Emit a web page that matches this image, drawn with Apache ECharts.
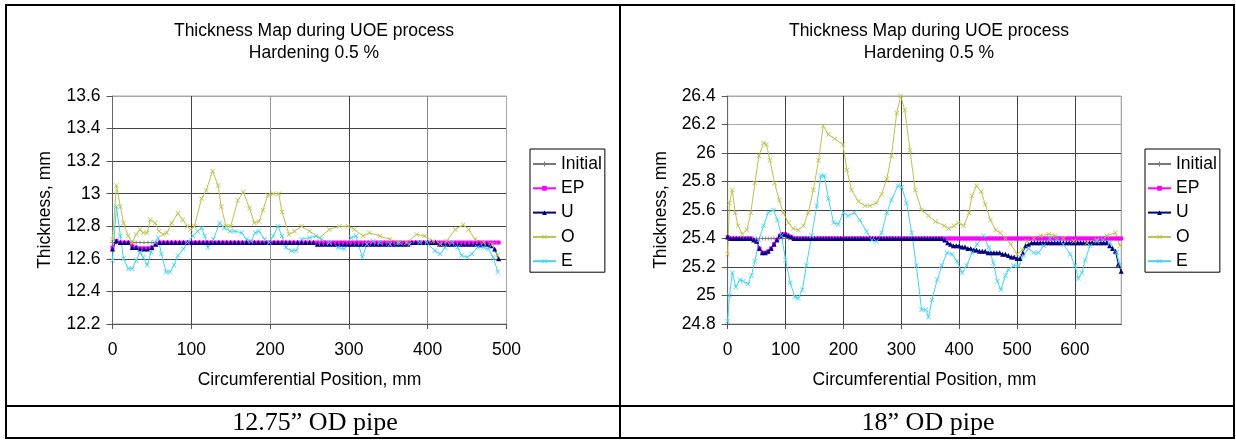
<!DOCTYPE html>
<html>
<head>
<meta charset="utf-8">
<script src="https://cdn.jsdelivr.net/npm/echarts/dist/echarts.min.js"></script>
<style>
html,body{margin:0;padding:0;background:#fff;}
#chart{width:1236px;height:441px;}
</style>
</head>
<body>
<div id="chart"></div>
<script>
// ---------------- DATA ----------------
const seriesNames = ['Initial', 'EP', 'U', 'O', 'E'];
const titleText = 'Thickness Map during UOE process\nHardening 0.5 %';
const captions = ['12.75\u201D OD pipe', '18\u201D OD pipe'];
const yName = 'Thickness, mm';
const xName = 'Circumferential Position, mm';

// Left chart (12.75" OD pipe): x positions every 5 mm
const xLeft = [
  0,5,10,15,20,25,30,35,40,45,
  50,55,60,65,70,75,80,85,90,95,
  100,105,110,115,120,125,130,135,140,145,
  150,155,160,165,170,175,180,185,190,195,
  200,205,210,215,220,225,230,235,240,245,
  250,255,260,265,270,275,280,285,290,295,
  300,305,310,315,320,325,330,335,340,345,
  350,355,360,365,370,375,380,385,390,395,
  400,405,410,415,420,425,430,435,440,445,
  450,455,460,465,470,475,480,485,490
];
const initialLeft = [
  12.7,12.7,12.7,12.7,12.7,12.7,12.7,12.7,12.7,12.7,
  12.7,12.7,12.7,12.7,12.7,12.7,12.7,12.7,12.7,12.7,
  12.7,12.7,12.7,12.7,12.7,12.7,12.7,12.7,12.7,12.7,
  12.7,12.7,12.7,12.7,12.7,12.7,12.7,12.7,12.7,12.7,
  12.7,12.7,12.7,12.7,12.7,12.7,12.7,12.7,12.7,12.7,
  12.7,12.7,12.7,12.7,12.7,12.7,12.7,12.7,12.7,12.7,
  12.7,12.7,12.7,12.7,12.7,12.7,12.7,12.7,12.7,12.7,
  12.7,12.7,12.7,12.7,12.7,12.7,12.7,12.7,12.7,12.7,
  12.7,12.7,12.7,12.7,12.7,12.7,12.7,12.7,12.7,12.7,
  12.7,12.7,12.7,12.7,12.7,12.7,12.7,12.7,12.7
];
const epLeft = [
  12.67,12.71,12.70,12.70,12.70,12.68,12.67,12.665,12.665,12.665,
  12.67,12.69,12.70,12.70,12.70,12.70,12.70,12.70,12.70,12.70,
  12.70,12.70,12.70,12.70,12.70,12.70,12.70,12.70,12.70,12.70,
  12.70,12.70,12.70,12.70,12.70,12.70,12.70,12.70,12.70,12.70,
  12.70,12.70,12.70,12.70,12.70,12.70,12.70,12.70,12.70,12.70,
  12.70,12.70,12.70,12.70,12.70,12.70,12.70,12.70,12.70,12.70,
  12.70,12.70,12.70,12.70,12.70,12.70,12.70,12.70,12.70,12.70,
  12.70,12.70,12.70,12.70,12.70,12.70,12.70,12.70,12.70,12.70,
  12.70,12.70,12.70,12.70,12.70,12.70,12.70,12.70,12.70,12.70,
  12.70,12.70,12.70,12.70,12.70,12.70,12.70,12.70,12.70
];
const uLeft = [
  12.66,12.71,12.70,12.70,12.70,12.67,12.67,12.66,12.66,12.66,
  12.67,12.69,12.70,12.70,12.70,12.70,12.70,12.70,12.70,12.70,
  12.70,12.70,12.70,12.70,12.70,12.70,12.70,12.70,12.70,12.70,
  12.70,12.70,12.70,12.70,12.70,12.70,12.70,12.70,12.70,12.70,
  12.70,12.70,12.70,12.70,12.70,12.70,12.70,12.70,12.70,12.70,
  12.70,12.70,12.69,12.69,12.69,12.69,12.69,12.69,12.69,12.69,
  12.69,12.69,12.69,12.69,12.69,12.69,12.69,12.69,12.69,12.69,
  12.69,12.69,12.69,12.69,12.69,12.69,12.70,12.70,12.70,12.70,
  12.70,12.70,12.70,12.69,12.69,12.69,12.69,12.69,12.69,12.69,
  12.69,12.69,12.69,12.69,12.69,12.69,12.68,12.66,12.60
];
const oLeft = [
  [0,12.72],[5,13.05],[10,12.92],[14,12.82],[20,12.74],[25,12.70],[30,12.75],[35,12.78],[39,12.76],[44,12.76],
  [48,12.84],[54,12.82],[59,12.77],[64,12.75],[69,12.76],[75,12.82],[83,12.88],[89,12.84],[95,12.80],[99,12.78],
  [104,12.80],[113,12.97],[119,13.02],[127,13.14],[134,13.05],[138,12.92],[144,12.80],[150,12.80],[159,12.96],[166,13.01],
  [174,12.91],[180,12.82],[186,12.83],[191,12.90],[197,12.99],[204,13.00],[211,13.00],[215,12.89],[224,12.75],[231,12.77],
  [240,12.80],[250,12.77],[263,12.73],[275,12.78],[288,12.80],[299,12.80],[307,12.78],[318,12.74],[326,12.76],[339,12.74],
  [352,12.72],[362,12.70],[373,12.70],[386,12.75],[396,12.74],[407,12.71],[416,12.69],[424,12.71],[435,12.78],[445,12.81],
  [452,12.78],[460,12.72],[471,12.70],[482,12.69],[489,12.62]
];
const eLeft = [
  [0,12.59],[5,12.92],[10,12.74],[14,12.60],[20,12.54],[25,12.54],[30,12.59],[35,12.64],[39,12.61],[44,12.56],
  [49,12.64],[54,12.70],[58,12.73],[62,12.63],[68,12.52],[73,12.52],[78,12.56],[83,12.62],[90,12.66],[95,12.70],
  [102,12.74],[108,12.77],[113,12.79],[117,12.74],[121,12.67],[128,12.72],[136,12.82],[142,12.79],[149,12.77],[155,12.77],
  [164,12.76],[170,12.72],[176,12.71],[181,12.76],[186,12.77],[193,12.72],[199,12.70],[204,12.74],[210,12.80],[215,12.74],
  [220,12.67],[227,12.65],[233,12.65],[240,12.72],[250,12.73],[258,12.74],[265,12.72],[275,12.70],[286,12.67],[294,12.66],
  [303,12.73],[309,12.74],[317,12.61],[323,12.69],[331,12.71],[339,12.70],[352,12.69],[364,12.70],[377,12.69],[390,12.70],
  [399,12.70],[409,12.65],[416,12.63],[422,12.67],[431,12.70],[438,12.67],[443,12.62],[450,12.61],[456,12.63],[463,12.67],
  [471,12.67],[477,12.66],[483,12.61],[489,12.52]
];

// Right chart (18" OD pipe): x positions every 5 mm
const xRight = [
  0,5,10,15,20,25,30,35,40,45,
  50,55,60,65,70,75,80,85,90,95,
  100,105,110,115,120,125,130,135,140,145,
  150,155,160,165,170,175,180,185,190,195,
  200,205,210,215,220,225,230,235,240,245,
  250,255,260,265,270,275,280,285,290,295,
  300,305,310,315,320,325,330,335,340,345,
  350,355,360,365,370,375,380,385,390,395,
  400,405,410,415,420,425,430,435,440,445,
  450,455,460,465,470,475,480,485,490,495,
  500,505,510,515,520,525,530,535,540,545,
  550,555,560,565,570,575,580,585,590,595,
  600,605,610,615,620,625,630,635,640,645,
  650,655,660,665,670,675,680
];
const initialRight = [
  25.4,25.4,25.4,25.4,25.4,25.4,25.4,25.4,25.4,25.4,
  25.4,25.4,25.4,25.4,25.4,25.4,25.4,25.4,25.4,25.4,
  25.4,25.4,25.4,25.4,25.4,25.4,25.4,25.4,25.4,25.4,
  25.4,25.4,25.4,25.4,25.4,25.4,25.4,25.4,25.4,25.4,
  25.4,25.4,25.4,25.4,25.4,25.4,25.4,25.4,25.4,25.4,
  25.4,25.4,25.4,25.4,25.4,25.4,25.4,25.4,25.4,25.4,
  25.4,25.4,25.4,25.4,25.4,25.4,25.4,25.4,25.4,25.4,
  25.4,25.4,25.4,25.4,25.4,25.4,25.4,25.4,25.4,25.4,
  25.4,25.4,25.4,25.4,25.4,25.4,25.4,25.4,25.4,25.4,
  25.4,25.4,25.4,25.4,25.4,25.4,25.4,25.4,25.4,25.4,
  25.4,25.4,25.4,25.4,25.4,25.4,25.4,25.4,25.4,25.4,
  25.4,25.4,25.4,25.4,25.4,25.4,25.4,25.4,25.4,25.4,
  25.4,25.4,25.4,25.4,25.4,25.4,25.4,25.4,25.4,25.4,
  25.4,25.4,25.4,25.4,25.4,25.4,25.4
];
const epRight = [
  25.41,25.40,25.40,25.40,25.40,25.40,25.40,25.40,25.40,25.39,
  25.38,25.33,25.30,25.30,25.31,25.33,25.36,25.39,25.42,25.43,
  25.43,25.42,25.41,25.40,25.40,25.40,25.40,25.40,25.40,25.40,
  25.40,25.40,25.40,25.40,25.40,25.40,25.40,25.40,25.40,25.40,
  25.40,25.40,25.40,25.40,25.40,25.40,25.40,25.40,25.40,25.40,
  25.40,25.40,25.40,25.40,25.40,25.40,25.40,25.40,25.40,25.40,
  25.40,25.40,25.40,25.40,25.40,25.40,25.40,25.40,25.40,25.40,
  25.40,25.40,25.40,25.40,25.40,25.40,25.40,25.40,25.40,25.40,
  25.40,25.40,25.40,25.40,25.40,25.40,25.40,25.40,25.40,25.40,
  25.40,25.40,25.40,25.40,25.40,25.40,25.40,25.40,25.40,25.40,
  25.40,25.40,25.40,25.40,25.40,25.40,25.40,25.40,25.40,25.40,
  25.40,25.40,25.40,25.40,25.40,25.40,25.40,25.40,25.40,25.40,
  25.40,25.40,25.40,25.40,25.40,25.40,25.40,25.40,25.40,25.40,
  25.40,25.40,25.40,25.40,25.40,25.40,25.40
];
const uRight = [
  25.41,25.40,25.40,25.40,25.40,25.40,25.40,25.40,25.40,25.39,
  25.38,25.33,25.30,25.30,25.31,25.33,25.36,25.39,25.42,25.43,
  25.43,25.42,25.41,25.40,25.40,25.40,25.40,25.40,25.40,25.40,
  25.40,25.40,25.40,25.40,25.40,25.40,25.40,25.40,25.40,25.40,
  25.40,25.40,25.40,25.40,25.40,25.40,25.40,25.40,25.40,25.40,
  25.40,25.40,25.40,25.40,25.40,25.40,25.40,25.40,25.40,25.40,
  25.40,25.40,25.40,25.40,25.40,25.40,25.40,25.40,25.40,25.40,
  25.40,25.40,25.40,25.40,25.40,25.39,25.37,25.36,25.35,25.35,
  25.35,25.34,25.34,25.33,25.33,25.32,25.32,25.31,25.31,25.31,
  25.30,25.30,25.30,25.30,25.30,25.29,25.29,25.28,25.27,25.27,
  25.26,25.26,25.30,25.35,25.36,25.37,25.37,25.37,25.37,25.37,
  25.37,25.37,25.37,25.37,25.37,25.37,25.37,25.37,25.37,25.37,
  25.37,25.37,25.37,25.37,25.37,25.37,25.37,25.37,25.37,25.37,
  25.37,25.37,25.35,25.33,25.31,25.22,25.17
];
const oRight = [
  [0,25.29],[3,25.65],[8,25.74],[13,25.58],[18,25.49],[25,25.43],[33,25.46],[40,25.58],[47,25.79],[54,25.98],
  [62,26.07],[67,26.06],[73,25.95],[81,25.79],[89,25.67],[96,25.58],[105,25.51],[113,25.47],[122,25.46],[131,25.49],
  [139,25.58],[148,25.74],[157,25.95],[165,26.19],[174,26.13],[185,26.10],[199,26.06],[206,25.88],[214,25.74],[226,25.66],
  [237,25.63],[246,25.63],[257,25.65],[266,25.71],[275,25.82],[283,25.98],[292,26.28],[299,26.40],[306,26.30],[315,26.02],
  [324,25.74],[335,25.60],[347,25.56],[359,25.52],[374,25.49],[382,25.47],[391,25.49],[399,25.51],[408,25.49],[417,25.58],
  [422,25.70],[430,25.77],[438,25.73],[445,25.64],[454,25.53],[463,25.46],[471,25.44],[480,25.40],[489,25.36],[500,25.29],
  [509,25.32],[517,25.38],[529,25.40],[540,25.42],[555,25.43],[566,25.42],[580,25.40],[598,25.38],[621,25.37],[638,25.39],
  [655,25.42],[670,25.44],[678,25.35]
];
const eRight = [
  [0,24.82],[3,25.00],[8,25.16],[14,25.06],[21,25.11],[27,25.10],[35,25.08],[41,25.14],[47,25.24],[54,25.39],
  [62,25.49],[70,25.58],[79,25.60],[86,25.53],[93,25.42],[100,25.25],[108,25.09],[116,24.99],[122,24.98],[129,25.04],
  [136,25.21],[145,25.42],[154,25.63],[161,25.84],[167,25.84],[174,25.68],[183,25.51],[191,25.50],[200,25.58],[208,25.56],
  [219,25.58],[228,25.53],[240,25.45],[249,25.39],[257,25.38],[266,25.44],[275,25.58],[283,25.67],[294,25.77],[301,25.76],
  [309,25.65],[318,25.44],[326,25.21],[335,24.90],[342,24.90],[347,24.85],[353,24.97],[362,25.11],[370,25.21],[379,25.30],
  [388,25.29],[396,25.24],[405,25.16],[413,25.21],[422,25.30],[431,25.36],[442,25.42],[451,25.34],[459,25.23],[466,25.10],
  [472,25.04],[480,25.14],[485,25.18],[494,25.21],[503,25.21],[511,25.28],[520,25.33],[529,25.30],[537,25.30],[546,25.35],
  [557,25.40],[569,25.39],[580,25.36],[592,25.29],[600,25.21],[606,25.12],[612,25.16],[618,25.25],[626,25.35],[638,25.38],
  [649,25.39],[661,25.37],[672,25.30],[678,25.22]
];

// ---------------- STYLE ----------------
const FONT = '"Liberation Sans", Arial, Helvetica, sans-serif';
const SERIF = '"Liberation Serif", "Times New Roman", serif';
const FS = 17.5;
const X_SYMBOL = 'path://M0,1L1,0L5,4L9,0L10,1L6,5L10,9L9,10L5,6L1,10L0,9L4,5Z';
const PLUS_SYMBOL = 'path://M4,0H6V4H10V6H6V10H4V6H0V4H4Z';
const styles = {
  'Initial': { color: '#777777', symbol: PLUS_SYMBOL, size: 4 },
  'EP':      { color: '#ff00ff', symbol: 'rect', size: 4 },
  'U':       { color: '#000080', symbol: 'triangle', size: 5 },
  'O':       { color: '#bcc24c', symbol: X_SYMBOL, size: 5 },
  'E':       { color: '#45d3ee', symbol: X_SYMBOL, size: 5 }
};

function pair(xs, ys) { return xs.map((x, i) => [x, ys[i]]); }

function mkSeries(name, data, gi) {
  const s = styles[name];
  return {
    name: name, type: 'line', xAxisIndex: gi, yAxisIndex: gi, data: data,
    symbol: s.symbol, symbolSize: s.size, showSymbol: true,
    lineStyle: { color: s.color, width: 1 },
    itemStyle: { color: s.color },
    emphasis: { disabled: true }, animation: false
  };
}

function mkXAxis(gi, max, splitColors) {
  return {
    type: 'value', gridIndex: gi, min: 0, max: max, interval: 100,
    name: xName, nameLocation: 'middle', nameGap: 47,
    nameTextStyle: { fontFamily: FONT, fontSize: FS, color: '#000' },
    axisLine: { show: true, lineStyle: { color: '#555', width: 1 } },
    axisTick: { show: true, inside: false, length: 5, lineStyle: { color: '#555' } },
    axisLabel: { fontFamily: FONT, fontSize: FS, color: '#000', margin: 17, showMaxLabel: max === 500 },
    splitLine: { show: true, lineStyle: { color: splitColors, width: 1 } }
  };
}
function mkYAxis(gi, min, max, splitColors) {
  return {
    type: 'value', gridIndex: gi, min: min, max: max, interval: 0.2,
    name: yName, nameLocation: 'middle', nameGap: 58, nameRotate: 90,
    nameTextStyle: { fontFamily: FONT, fontSize: FS, color: '#000' },
    axisLine: { show: true, lineStyle: { color: '#666', width: 1 } },
    axisTick: { show: true, inside: false, length: 6, lineStyle: { color: '#555' } },
    axisLabel: { fontFamily: FONT, fontSize: FS, color: '#000', margin: 12 },
    splitLine: { show: true, lineStyle: { color: splitColors, width: 1 } }
  };
}
function mkLegend(left) {
  return {
    orient: 'vertical', left: left, top: 149, selectedMode: false,
    padding: [6, 3, 2, 2], itemGap: 6.3, itemWidth: 23, itemHeight: 6,
    borderColor: '#000', borderWidth: 1, backgroundColor: '#fff',
    textStyle: { fontFamily: FONT, fontSize: FS, color: '#000', lineHeight: 18 },
    data: seriesNames
  };
}

const chart = echarts.init(document.getElementById('chart'), null, { renderer: 'canvas' });

const borderLines = [
  [5, 5, 1235, 5], [5, 438, 1235, 438], [6, 5, 6, 438], [1234, 5, 1234, 438],
  [620, 5, 620, 438], [5, 406, 1235, 406]
].map(l => ({
  type: 'line', silent: true, z: 100,
  shape: { x1: l[0], y1: l[1], x2: l[2], y2: l[3] },
  style: { stroke: '#000', lineWidth: 2 }
}));

const texts = [
  { x: 314, y: 42, text: titleText, font: FS + 'px ' + FONT, lh: 22 },
  { x: 929, y: 42, text: titleText, font: FS + 'px ' + FONT, lh: 22 },
  { x: 315, y: 423, text: captions[0], font: '26px ' + SERIF, lh: 28 },
  { x: 928, y: 423, text: captions[1], font: '26px ' + SERIF, lh: 28 }
].map(t => ({
  type: 'text', x: t.x, y: t.y, silent: true,
  style: { text: t.text, font: t.font, fill: '#000', align: 'center', verticalAlign: 'middle', lineHeight: t.lh }
}));

const option = {
  backgroundColor: '#fff',
  animation: false,
  grid: [
    { left: 112.5, top: 96, width: 394, height: 228, show: true, borderColor: '#a8a8a8', borderWidth: 1, backgroundColor: 'transparent', outerBoundsMode: 'none', containLabel: false },
    { left: 727.7, top: 96, width: 393.5, height: 228, show: true, borderColor: '#a8a8a8', borderWidth: 1, backgroundColor: 'transparent', outerBoundsMode: 'none', containLabel: false }
  ],
  xAxis: [
    mkXAxis(0, 500, ['#444', '#444', '#999', '#444', '#888', '#a8a8a8']),
    mkXAxis(1, 680, ['#444', '#444', '#444', '#444', '#444', '#444', '#444', '#a8a8a8'])
  ],
  yAxis: [
    mkYAxis(0, 12.2, 13.6, ['#444', '#444', '#444', '#444', '#444', '#444', '#444', '#a8a8a8']),
    mkYAxis(1, 24.8, 26.4, ['#444', '#444', '#444', '#444', '#444', '#444', '#444', '#a8a8a8', '#a8a8a8'])
  ],
  legend: [mkLegend(530), mkLegend(1145)],
  graphic: borderLines.concat(texts),
  series: [
    mkSeries('Initial', pair(xLeft, initialLeft), 0),
    mkSeries('EP', pair(xLeft, epLeft), 0),
    mkSeries('U', pair(xLeft, uLeft), 0),
    mkSeries('O', oLeft, 0),
    mkSeries('E', eLeft, 0),
    mkSeries('Initial', pair(xRight, initialRight), 1),
    mkSeries('EP', pair(xRight, epRight), 1),
    mkSeries('U', pair(xRight, uRight), 1),
    mkSeries('O', oRight, 1),
    mkSeries('E', eRight, 1)
  ]
};
chart.setOption(option);
</script>
</body>
</html>
